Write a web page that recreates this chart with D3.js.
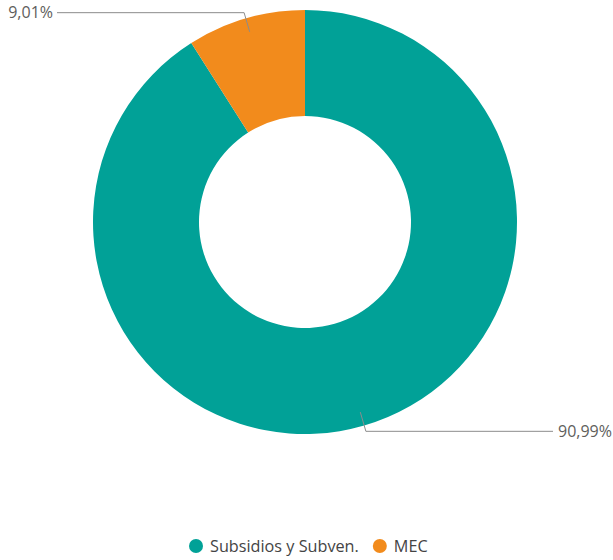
<!DOCTYPE html>
<html>
<head>
<meta charset="utf-8">
<script src="https://cdn.jsdelivr.net/npm/d3@7/dist/d3.min.js"></script>
<style>
  body { margin: 0; background: #fff; }
  text { font-family: "Open Sans", "Noto Sans", sans-serif; }
</style>
</head>
<body>
<div id="chart"></div>
<script>
var categories = ['Subsidios y Subven.', 'MEC'];
var values = [90.99, 9.01];
var labels = ['90,99%', '9,01%'];
var colors = ['#01A197', '#F28B1C'];

var W = 613, H = 560;
var cx = 305, cy = 222, outerR = 212, innerR = 106;

var svg = d3.select('#chart').append('svg')
    .attr('width', W)
    .attr('height', H);

// width of a string at 100px, used to size text like the original
function textWidth(s) {
  var t = svg.append('text').style('font-size', '100px').text(s);
  var w = t.node().getComputedTextLength();
  t.remove();
  return w;
}

var labelSize = 100 * 54 / textWidth('90,99%');
var legendSize = 100 * 149 / textWidth('Subsidios y Subven.');

var data = categories.map(function(c, i) {
  return {name: c, value: values[i], label: labels[i], color: colors[i]};
});

var pie = d3.pie()
    .sort(null)
    .value(function(d) { return d.value; });

var arc = d3.arc()
    .innerRadius(innerR)
    .outerRadius(outerR);

var arcs = pie(data);

var g = svg.append('g')
    .attr('transform', 'translate(' + cx + ',' + cy + ')');

g.selectAll('path.slice')
    .data(arcs)
  .enter().append('path')
    .attr('class', 'slice')
    .attr('d', arc)
    .attr('fill', function(d) { return d.data.color; });

// Leader lines and labels
function pt(a, r) {
  return [Math.sin(a) * r, -Math.cos(a) * r];
}

arcs.forEach(function(d) {
  var mid = (d.startAngle + d.endAngle) / 2;
  var p1 = pt(mid, 198);
  var p2 = pt(mid, 218);
  var right = Math.sin(mid) > 0;
  var xEnd = right ? 553 - cx : 57 - cx;
  g.append('polyline')
      .attr('points', [p1, p2, [xEnd, p2[1]]].map(function(p) { return p.join(','); }).join(' '))
      .attr('fill', 'none')
      .attr('stroke', '#8c8c8c')
      .attr('stroke-width', 1);
  g.append('text')
      .attr('x', right ? xEnd + 5 : xEnd - 4)
      .attr('y', p2[1])
      .attr('dy', '0.35em')
      .attr('text-anchor', right ? 'start' : 'end')
      .attr('fill', '#605e5c')
      .style('font-size', labelSize + 'px')
      .text(d.data.label);
});

// Legend
var legend = svg.append('g');
var lx = 196, ly = 546;
data.forEach(function(d, i) {
  var item = legend.append('g');
  item.append('circle')
      .attr('cx', lx)
      .attr('cy', ly)
      .attr('r', 7)
      .attr('fill', d.color);
  var t = item.append('text')
      .attr('x', lx + 14)
      .attr('y', ly)
      .attr('dy', '0.35em')
      .attr('fill', '#444')
      .style('font-size', legendSize + 'px')
      .text(d.name);
  lx += 14 + t.node().getComputedTextLength() + 21;
});
</script>
</body>
</html>
